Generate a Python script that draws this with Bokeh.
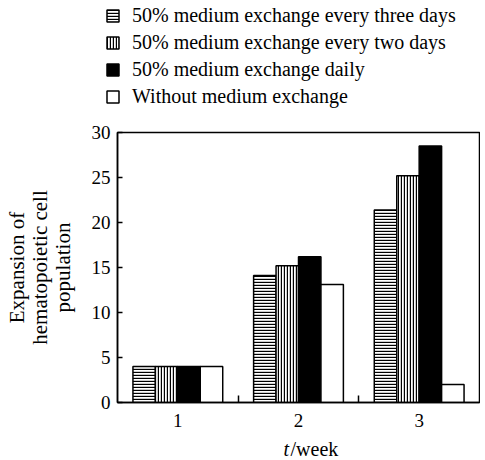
from bokeh.plotting import figure
from bokeh.layouts import column
from bokeh.models import Range1d, FixedTicker, Legend, LegendItem, Label
from bokeh.embed import file_html
from bokeh.resources import INLINE

# ---- data ----
weeks = [1, 2, 3]
week_labels = ["1", "2", "3"]
every_three_days = [4.0, 14.1, 21.4]
every_two_days = [4.0, 15.2, 25.2]
daily = [4.0, 16.2, 28.5]
without_exchange = [4.0, 13.1, 2.0]
series_names = [
    "50% medium exchange every three days",
    "50% medium exchange every two days",
    "50% medium exchange daily",
    "Without medium exchange",
]
y_ticks = [0, 5, 10, 15, 20, 25, 30]
boundaries = [1.5, 2.5]

FONT = "Liberation Serif"
W = 480

bw = 0.186
offsets = [-1.5 * bw, -0.5 * bw, 0.5 * bw, 1.5 * bw]
values = [every_three_days, every_two_days, daily, without_exchange]
styles = [
    dict(fill_color="white", hatch_pattern="horizontal_line", hatch_color="black",
         hatch_scale=3, hatch_weight=1.4),
    dict(fill_color="white", hatch_pattern="vertical_line", hatch_color="black",
         hatch_scale=3, hatch_weight=1.4),
    dict(fill_color="black"),
    dict(fill_color="white"),
]


def bare(height):
    f = figure(width=W, height=height, output_backend="svg", toolbar_location=None,
               x_range=Range1d(0.5, 3.5), y_range=Range1d(0, 30),
               min_border=0, min_border_left=0, min_border_right=0,
               min_border_top=0, min_border_bottom=0)
    f.axis.visible = False
    f.grid.visible = False
    f.outline_line_color = None
    f.frame_align = False
    return f


# ---- legend panel (renderers hidden, only the legend shows) ----
lf = bare(115)
lrs = []
for vals, off, st in zip(values, offsets, styles):
    xs = [w + off for w in weeks]
    r = lf.vbar(x=xs, top=vals, bottom=0, width=bw, line_color="black",
                line_width=1.5, **st)
    r.visible = False
    lrs.append(r)
legend = Legend(
    items=[LegendItem(label=n, renderers=[r]) for n, r in zip(series_names, lrs)],
    location=(105, 7),
    border_line_color=None, background_fill_alpha=0,
    inactive_fill_alpha=0,
    padding=0, margin=0, spacing=4,
    glyph_width=15, glyph_height=15, label_standoff=12, label_height=23,
    label_text_font=FONT, label_text_font_size="20px", label_text_color="black",
)
lf.add_layout(legend)

# ---- main chart ----
p = figure(width=W, height=315, output_backend="svg", toolbar_location=None,
           x_range=Range1d(0.5, 3.5), y_range=Range1d(0, 30),
           min_border_left=117, min_border_right=1,
           min_border_top=17, min_border_bottom=28)

p.grid.visible = False
p.outline_line_color = "black"
p.outline_line_width = 1.5
p.background_fill_color = "white"

for vals, off, st in zip(values, offsets, styles):
    xs = [w + off for w in weeks]
    p.vbar(x=xs, top=vals, bottom=0, width=bw, line_color="black",
           line_width=1.5, **st)

ya = p.yaxis[0]
ya.ticker = FixedTicker(ticks=y_ticks)
ya.major_tick_in = 5
ya.major_tick_out = 0
ya.minor_tick_line_color = None
ya.axis_line_color = "black"
ya.axis_line_width = 1.5
ya.major_tick_line_width = 1.5
ya.major_label_text_font = FONT
ya.major_label_text_font_size = "19px"
ya.major_label_text_color = "black"
ya.major_label_standoff = 7
ya.axis_label = "Expansion of\nhematopoietic cell\npopulation"
ya.axis_label_text_font = FONT
ya.axis_label_text_font_size = "21px"
ya.axis_label_text_font_style = "normal"
ya.axis_label_text_color = "black"
ya.axis_label_text_line_height = 0.95
ya.axis_label_standoff = 14

xa = p.xaxis[0]
xa.ticker = FixedTicker(ticks=weeks, minor_ticks=boundaries)
xa.major_label_overrides = {w: l for w, l in zip(weeks, week_labels)}
xa.major_tick_line_color = None
xa.minor_tick_in = 7
xa.minor_tick_out = 0
xa.minor_tick_line_color = "black"
xa.minor_tick_line_width = 1.5
xa.axis_line_color = "black"
xa.axis_line_width = 1.5
xa.major_label_text_font = FONT
xa.major_label_text_font_size = "19px"
xa.major_label_text_color = "black"
xa.major_label_standoff = 5

# ---- x-axis title panel: italic t + /week ----
xf = bare(30)
xf.add_layout(Label(x=283, y=12, x_units="screen", y_units="screen", text="t",
                    text_font=FONT, text_font_size="20px", text_font_style="italic",
                    text_align="left", text_baseline="middle", text_color="black"))
xf.add_layout(Label(x=290, y=12, x_units="screen", y_units="screen", text="/week",
                    text_font=FONT, text_font_size="20px", text_font_style="normal",
                    text_align="left", text_baseline="middle", text_color="black"))

layout = column(lf, p, xf, spacing=0)
open("out.html", "w").write(file_html(layout, INLINE))
